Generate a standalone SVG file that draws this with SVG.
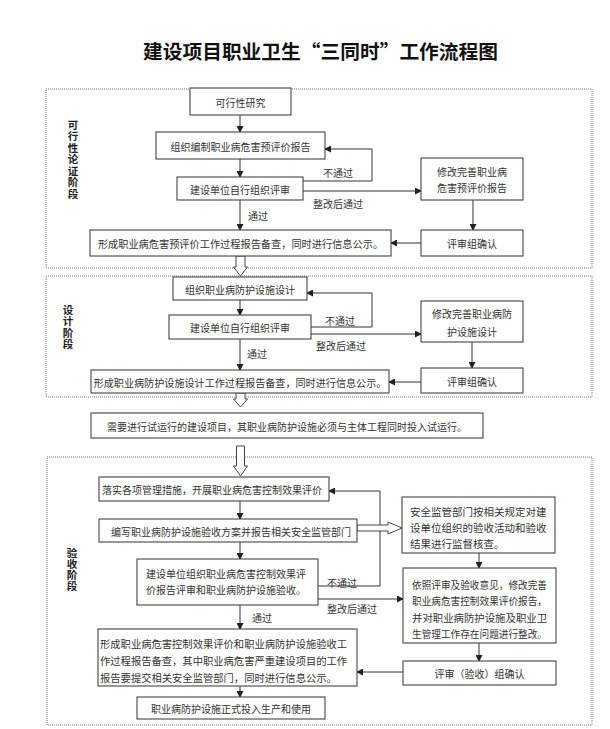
<svg xmlns="http://www.w3.org/2000/svg" width="610" height="729" viewBox="0 0 610 729">
<style>
text{font-family:"Noto Sans CJK SC","Noto Sans",sans-serif;fill:#333;font-size:10px;dominant-baseline:central}
.t{font-size:19.7px;font-weight:bold;fill:#111}
.c{text-anchor:middle}
.sec{font-size:10.5px;font-weight:bold;fill:#222;writing-mode:vertical-rl;text-orientation:upright}
.b{fill:#fff;stroke:#444;stroke-width:1.1}
.d{fill:none;stroke:#777;stroke-width:1;stroke-dasharray:1 1}
.l{fill:none;stroke:#333;stroke-width:1;marker-end:url(#ah)}
.h{fill:#fff;stroke:#444;stroke-width:1}
</style>
<defs>
<marker id="ah" markerWidth="7" markerHeight="7" refX="6" refY="3.5" orient="auto" markerUnits="userSpaceOnUse">
<path d="M0,0 L7,3.5 L0,7 Z" fill="#222"/>
</marker>
</defs>
<rect width="610" height="729" fill="#fff"/>
<text class="t" x="143" y="50" textLength="355" lengthAdjust="spacingAndGlyphs">建设项目职业卫生“三同时”工作流程图</text>

<g id="stages">
<rect class="d" x="46" y="89" width="546" height="179"/>
<rect class="d" x="46" y="276" width="546" height="121"/>
<rect class="d" x="47" y="457" width="545" height="268"/>
<text class="sec" x="73" y="119.75" letter-spacing="1">可行性论证阶段</text>
<text class="sec" x="68" y="304.75" letter-spacing="1">设计阶段</text>
<text class="sec" x="72" y="547.75" letter-spacing="0.5">验收阶段</text>
</g>

<g id="connectors">
<path class="l" d="M240,115 V132"/>
<path class="l" d="M240,159 V177"/>
<path class="l" d="M240,200 V230"/>
<path class="l" d="M303,181 H372 V149 H325"/>
<path class="l" d="M303,191 H421"/>
<path class="l" d="M473,200 V230"/>
<path class="l" d="M421,243 H391"/>
<path class="l" d="M240,300 V315"/>
<path class="l" d="M240,339 V370"/>
<path class="l" d="M311,327 H372 V293 H307"/>
<path class="l" d="M311,334 H421"/>
<path class="l" d="M472,342 V368"/>
<path class="l" d="M421,382 H389"/>
<path class="l" d="M240,501 V519"/>
<path class="l" d="M240,542 V559"/>
<path class="l" d="M240,605 V629"/>
<path class="l" d="M240,686 V697"/>
<path class="l" d="M318,586 H380 V491 H329"/>
<path class="l" d="M318,599 H403"/>
<path class="l" d="M479,553 V568"/>
<path class="l" d="M479,643 V661"/>
<path class="l" d="M403,672 H357"/>
<polygon class="h" points="236,256 245,256 245,267 247.5,267 240.5,276 233.5,267 236,267"/>
<polygon class="h" points="236,393 245,393 245,399 247.5,399 240.5,407 233.5,399 236,399"/>
<polygon class="h" points="236.5,446 244.5,446 244.5,466 247.5,466 240.5,476 233.5,466 236.5,466"/>
<polygon class="h" points="357,525 388,525 388,522 402,528 388,534 388,531 357,531"/>
<text x="248" y="215">通过</text>
<text x="323" y="172">不通过</text>
<text x="313" y="203">整改后通过</text>
<text x="247" y="353">通过</text>
<text x="325" y="320">不通过</text>
<text x="316" y="345">整改后通过</text>
<text x="252" y="617">通过</text>
<text x="327" y="582">不通过</text>
<text x="327" y="608">整改后通过</text>
</g>

<g id="n1"><rect class="b" x="190" y="88" width="101" height="27"/><text class="c" x="240.5" y="102">可行性研究</text></g>
<g id="n2"><rect class="b" x="156" y="132" width="169" height="27"/><text class="c" x="240.5" y="146">组织编制职业病危害预评价报告</text></g>
<g id="n3"><rect class="b" x="177" y="177" width="126" height="23"/><text class="c" x="240" y="189">建设单位自行组织评审</text></g>
<g id="n4"><rect class="b" x="90" y="230" width="301" height="26"/><text class="c" x="240.5" y="243" style="font-size:10.2px">形成职业病危害预评价工作过程报告备查，同时进行信息公示。</text></g>
<g id="n5"><rect class="b" x="421" y="158" width="102" height="42"/><text class="c" x="472" y="171">修改完善职业病</text><text class="c" x="472" y="187">危害预评价报告</text></g>
<g id="n6"><rect class="b" x="421" y="230" width="102" height="26"/><text class="c" x="472" y="243">评审组确认</text></g>

<g id="n7"><rect class="b" x="173" y="277" width="134" height="23"/><text class="c" x="240" y="289">组织职业病防护设施设计</text></g>
<g id="n8"><rect class="b" x="169" y="315" width="142" height="24"/><text class="c" x="240" y="327">建设单位自行组织评审</text></g>
<g id="n9"><rect class="b" x="91" y="370" width="298" height="23"/><text class="c" x="240" y="382" style="font-size:10.1px">形成职业病防护设施设计工作过程报告备查，同时进行信息公示。</text></g>
<g id="n10"><rect class="b" x="421" y="301" width="102" height="41"/><text class="c" x="472" y="313">修改完善职业病防</text><text class="c" x="472" y="331">护设施设计</text></g>
<g id="n11"><rect class="b" x="421" y="368" width="102" height="25"/><text class="c" x="472" y="381">评审组确认</text></g>

<g id="n12"><rect class="b" x="91" y="413" width="392" height="25"/><text class="c" x="287" y="426">需要进行试运行的建设项目，其职业病防护设施必须与主体工程同时投入试运行。</text></g>

<g id="n13"><rect class="b" x="99" y="477" width="230" height="24"/><text class="c" x="212" y="489">落实各项管理措施，开展职业病危害控制效果评价</text></g>
<g id="n14"><rect class="b" x="99" y="519" width="258" height="23"/><text class="c" x="231" y="531">编写职业病防护设施验收方案并报告相关安全监管部门</text></g>
<g id="n15"><rect class="b" x="137" y="559" width="181" height="46"/><text x="146" y="573">建设单位组织职业病危害控制效果评</text><text x="146" y="589">价报告评审和职业病防护设施验收。</text></g>
<g id="n16"><rect class="b" x="402" y="497" width="153" height="56"/><text x="410" y="511" style="font-size:10.5px">安全监管部门按相关规定对建</text><text x="410" y="527" style="font-size:10.5px">设单位组织的验收活动和验收</text><text x="410" y="543" style="font-size:10.5px">结果进行监督核查。</text></g>
<g id="n17"><rect class="b" x="403" y="568" width="153" height="75"/><text x="412" y="584" textLength="135" lengthAdjust="spacingAndGlyphs">依照评审及验收意见，修改完善</text><text x="412" y="600" textLength="135" lengthAdjust="spacingAndGlyphs">职业病危害控制效果评价报告，</text><text x="412" y="617" style="font-size:10.4px">并对职业病防护设施及职业卫</text><text x="412" y="633" textLength="135" lengthAdjust="spacingAndGlyphs">生管理工作存在问题进行整改。</text></g>
<g id="n18"><rect class="b" x="403" y="661" width="153" height="24"/><text class="c" x="479.5" y="673">评审（验收）组确认</text></g>
<g id="n19"><rect class="b" x="98" y="629" width="259" height="57"/><text x="100" y="643" style="font-size:10.3px">形成职业病危害控制效果评价和职业病防护设施验收工</text><text x="100" y="660" style="font-size:10.3px">作过程报告备查，其中职业病危害严重建设项目的工作</text><text x="100" y="677" style="font-size:10.3px">报告要提交相关安全监管部门，同时进行信息公示。</text></g>
<g id="n20"><rect class="b" x="137" y="697" width="188" height="22"/><text class="c" x="231" y="708">职业病防护设施正式投入生产和使用</text></g>
</svg>
